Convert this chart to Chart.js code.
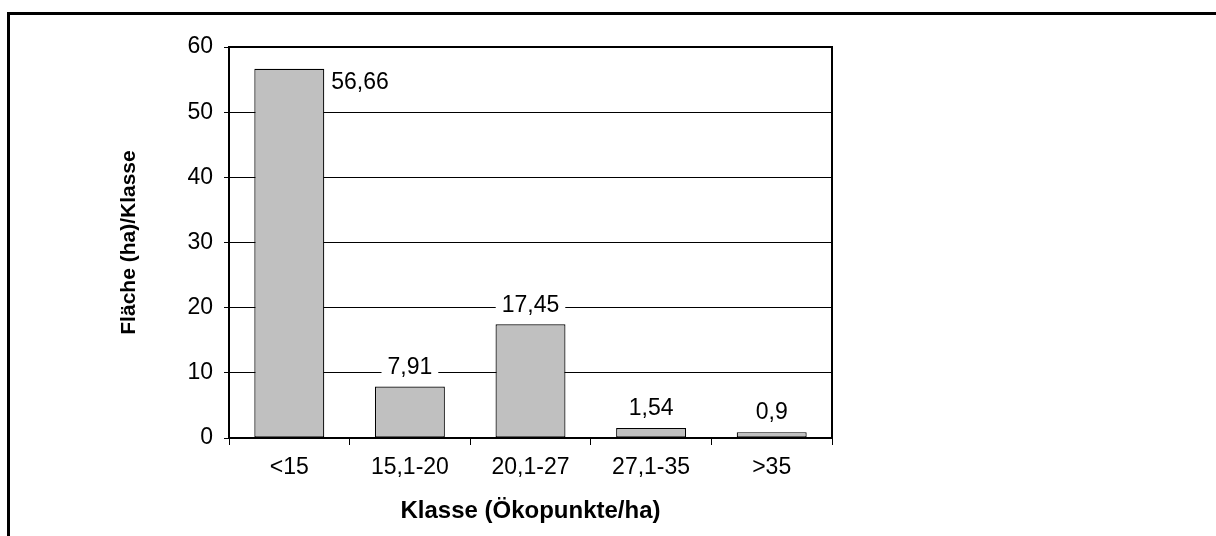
<!DOCTYPE html>
<html>
<head>
<meta charset="utf-8">
<script src="https://cdn.jsdelivr.net/npm/chart.js@4.4.0/dist/chart.umd.min.js"></script>
<style>
    html, body { margin: 0; padding: 0; background: #fff; }
    #wrap { width: 1216px; height: 536px; }
</style>
</head>
<body>
<div id="wrap"><canvas id="barChart" width="1216" height="536"></canvas></div>
<script>
// Daten
const categories = ['<15', '15,1-20', '20,1-27', '27,1-35', '>35'];
const areaValues = [56.66, 7.91, 17.45, 1.54, 0.9];
const yTicks = [0, 10, 20, 30, 40, 50, 60];

const FONT = "'Liberation Sans', Arial, sans-serif";

// white background + outer frame (only top and left edge visible)
const framePlugin = {
    id: 'frame',
    beforeDraw(chart) {
        const ctx = chart.ctx;
        ctx.save();
        ctx.fillStyle = '#fff';
        ctx.fillRect(0, 0, chart.width, chart.height);
        ctx.strokeStyle = '#000';
        ctx.lineWidth = 3;
        ctx.beginPath();
        ctx.moveTo(8.5, chart.height);
        ctx.lineTo(8.5, 13.5);
        ctx.lineTo(chart.width, 13.5);
        ctx.stroke();
        ctx.restore();
    },
    afterDraw(chart) {
        // plot area border (top + right)
        const {ctx, chartArea} = chart;
        ctx.save();
        ctx.strokeStyle = '#000';
        ctx.lineWidth = 2;
        ctx.beginPath();
        ctx.moveTo(chartArea.left, chartArea.top);
        ctx.lineTo(chartArea.right, chartArea.top);
        ctx.lineTo(chartArea.right, chartArea.bottom);
        ctx.stroke();
        ctx.restore();
    }
};

// Wertbeschriftung mit weißem Hintergrund
const valueLabels = {
    id: 'valueLabels',
    afterDatasetsDraw(chart) {
        const {ctx, chartArea} = chart;
        const meta = chart.getDatasetMeta(0);
        ctx.save();
        ctx.font = '23px ' + FONT;
        ctx.textAlign = 'center';
        ctx.textBaseline = 'middle';
        meta.data.forEach((bar, i) => {
            const text = String(areaValues[i]).replace('.', ',');
            const w = ctx.measureText(text).width;
            let x = bar.x;
            let y = bar.y - 20;
            if (y - 10 < chartArea.top) {
                // kein Platz oben -> rechts neben den Balken
                x = bar.x + bar.width / 2 + 7 + w / 2;
                y = bar.y + 13;
            }
            ctx.fillStyle = '#fff';
            ctx.fillRect(x - w / 2 - 6, y - 12, w + 12, 24);
            ctx.fillStyle = '#000';
            ctx.fillText(text, x, y + 1);
        });
        ctx.restore();
    }
};

new Chart(document.getElementById('barChart'), {
    type: 'bar',
    data: {
        labels: categories,
        datasets: [{
            data: areaValues,
            backgroundColor: '#c0c0c0',
            borderColor: '#000',
            borderWidth: 1.2,
            borderSkipped: false,
            barPercentage: 0.58,
            categoryPercentage: 1
        }]
    },
    options: {
        responsive: false,
        animation: false,
        layout: {padding: {top: 47, right: 384, left: 0, bottom: 0}},
        plugins: {
            legend: {display: false},
            tooltip: {enabled: false}
        },
        scales: {
            x: {
                afterFit: (s) => { s.height = 98; },
                grid: {
                    display: true,
                    drawOnChartArea: false,
                    drawTicks: true,
                    tickLength: 7,
                    color: '#000',
                    lineWidth: 1
                },
                border: {color: '#000', width: 2},
                ticks: {
                    color: '#000',
                    padding: 9,
                    font: {family: FONT, size: 23}
                },
                title: {
                    display: true,
                    text: 'Klasse (Ökopunkte/ha)',
                    color: '#000',
                    font: {family: FONT, size: 24, weight: 'bold'},
                    padding: {top: 0, bottom: 10}
                }
            },
            y: {
                min: 0,
                max: 60,
                afterFit: (s) => { s.width = 229; },
                afterBuildTicks: (s) => { s.ticks = yTicks.map(v => ({value: v})); },
                grid: {
                    color: '#000',
                    lineWidth: 1,
                    tickLength: 5
                },
                border: {color: '#000', width: 2},
                ticks: {
                    color: '#000',
                    padding: 11,
                    font: {family: FONT, size: 23}
                },
                title: {
                    display: true,
                    text: 'Fläche (ha)/Klasse',
                    color: '#000',
                    font: {family: FONT, size: 21, weight: 'bold'},
                    padding: {top: 117, bottom: 0}
                }
            }
        }
    },
    plugins: [framePlugin, valueLabels]
});
</script>
</body>
</html>
